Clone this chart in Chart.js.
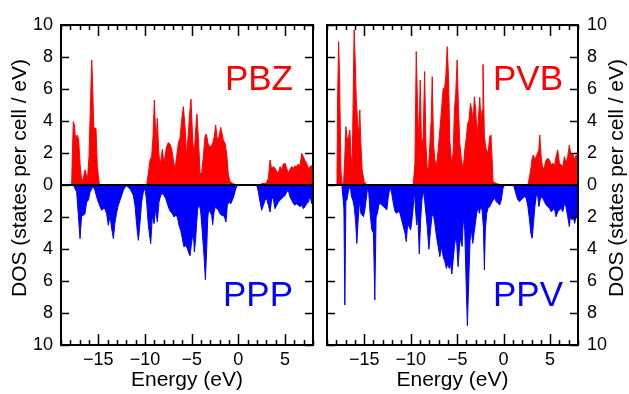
<!DOCTYPE html>
<html>
<head>
<meta charset="utf-8">
<script src="https://cdn.jsdelivr.net/npm/chart.js@4.4.1/dist/chart.umd.min.js"></script>
<style>
  html, body { margin: 0; padding: 0; background: #fff; }
  #wrap { position: relative; width: 629px; height: 394px; }
  canvas { position: absolute; top: 0; }
</style>
</head>
<body>
<div id="wrap">
  <canvas id="leftPanel" width="320" height="394" style="left:0"></canvas>
  <canvas id="rightPanel" width="309" height="394" style="left:320px"></canvas>
</div>
<script>
// energies (eV) and DOS values (states per cell / eV)
const pbzE = [-17.86,-17.79,-17.68,-17.57,-17.43,-17.25,-17.11,-16.96,-16.79,-16.61,-16.43,-16.32,-16.18,-16.00,-15.86,-15.71,-15.61,-15.50,-15.39,-15.25,-15.11,-14.89,
  -9.82,-9.64,-9.46,-9.29,-9.14,-9.00,-8.82,-8.68,-8.54,-8.39,-8.25,-8.14,-8.00,-7.86,-7.68,-7.50,-7.32,-7.14,-6.96,-6.79,-6.61,-6.43,-6.25,-6.07,-5.89,-5.71,-5.54,-5.36,-5.18,-5.07,-4.89,-4.75,-4.57,-4.43,-4.25,-4.11,-3.93,-3.75,-3.57,-3.43,-3.25,-3.11,-2.93,-2.75,-2.57,-2.43,-2.25,-2.07,-1.89,-1.75,-1.61,-1.43,-1.25,-1.07,-0.89,-0.61,-0.18,
  2.32,2.50,2.97,3.22,3.40,3.58,3.75,3.93,4.11,4.29,4.47,4.65,4.82,5.00,5.18,5.36,5.54,5.72,5.90,6.07,6.25,6.43,6.61,6.79,6.97,7.15,7.32,7.50,7.68,8.00];
const pbzV = [0,1.77,3.96,3.75,2.82,3.13,2.82,1.36,0.21,0.42,0.94,0.73,0.21,1.77,4.69,7.82,6.36,3.65,3.54,3.54,1.15,0,
  0,0.73,1.56,1.77,3.02,5.31,2.61,4.17,2.19,1.15,1.77,2.23,1.36,1.77,2.40,2.65,2.54,2.23,1.56,0.94,1.77,2.61,2.92,4.06,4.90,3.65,1.77,3.23,4.69,5.36,2.82,1.77,3.44,4.42,2.61,0.73,0.73,1.77,3.02,3.19,2.61,2.40,2.40,2.61,3.02,3.75,2.82,3.02,3.61,3.23,2.82,2.61,1.98,0.63,0.21,0.10,0,
  0,0.10,0.10,0.42,1.56,0.94,1.15,1.04,0.84,0.73,1.15,0.94,1.31,1.36,1.04,0.73,0.98,1.15,1.04,1.19,1.15,1.31,1.19,1.98,1.77,1.52,1.36,1.04,1.15,1.25];

const pppE = [-17.68,-17.32,-17.14,-16.96,-16.79,-16.61,-16.43,-16.25,-16.07,-15.89,-15.71,-15.54,-15.36,-15.18,-15.00,-14.82,-14.64,-14.46,-14.29,-14.11,
  -13.93,-13.75,-13.57,-13.39,-13.21,-13.03,-12.86,-12.68,-12.50,-12.32,-12.14,-11.96,-11.61,-11.25,-11.07,-10.89,-10.71,-10.53,-10.36,-10.18,
  -10.00,-9.82,-9.64,-9.39,-9.21,-9.03,-8.86,-8.68,-8.50,-8.32,-8.14,-7.96,-7.78,-7.61,-7.43,-7.25,-7.07,-6.89,-6.71,-6.53,
  -6.36,-6.18,-6.00,-5.82,-5.64,-5.46,-5.28,-5.18,-5.00,-4.82,-4.71,-4.57,-4.46,-4.35,-4.18,-4.03,-3.86,-3.68,-3.53,-3.39,
  -3.28,-3.17,-3.03,-2.85,-2.75,-2.60,-2.46,-2.32,-2.14,-1.96,-1.78,-1.60,-1.43,-1.32,-1.18,-1.00,-0.82,-0.64,-0.46,-0.28,
  -0.10,0.08,1.97,2.15,2.33,2.50,2.68,2.86,3.04,3.22,3.40,3.58,3.75,3.93,4.11,4.29,4.47,4.65,4.83,5.00,
  5.18,5.36,5.54,5.72,5.90,6.08,6.25,6.43,6.61,6.79,6.97,7.15,7.33,7.51,7.68,7.86,8.00];
const pppV = [0,0.44,1.90,3.35,1.90,1.90,1.79,1.06,0.96,0.44,0.23,0.13,0.33,0.75,1.06,1.35,1.58,1.48,1.48,1.79,
  2.52,1.90,2.73,3.35,2.31,1.69,1.27,0.96,0.65,0.33,0.13,0.06,0.23,0.65,1.27,2.52,3.46,2.31,1.06,0.44,
  0.19,1.06,2.52,3.67,1.90,2.42,1.48,2.31,1.06,0.65,0.54,0.65,0.85,1.17,1.48,1.69,1.79,2.00,1.90,2.00,
  2.52,2.83,3.35,3.88,3.77,3.98,4.29,4.40,3.56,2.94,4.19,3.35,2.31,1.48,1.17,1.69,2.94,4.40,5.92,3.98,
  2.10,1.48,1.69,1.90,2.48,1.69,1.35,1.48,1.58,1.79,1.90,1.90,2.10,2.31,1.27,1.06,1.17,0.96,0.65,0.23,
  0.02,0,0,0.44,1.06,1.58,1.27,0.96,0.85,1.27,1.69,0.85,0.85,1.48,1.27,1.06,0.96,0.85,0.75,0.65,
  0.44,0.33,0.75,0.96,1.17,1.27,1.17,1.27,1.35,1.27,1.48,1.35,1.17,1.06,0.65,1.17,1.20];

const pvbE = [-17.93,-17.86,-17.75,-17.65,-17.50,-17.40,-17.22,-17.11,-16.97,-16.83,-16.68,-16.54,-16.43,-16.29,-16.18,-16.08,-15.97,-15.86,-15.72,-15.58,-15.47,-15.36,-15.22,-15.00,-14.72,
  -9.72,-9.54,-9.40,-9.25,-9.11,-8.97,-8.83,-8.65,-8.50,-8.36,-8.22,-8.07,-7.93,-7.79,-7.68,-7.54,-7.40,-7.22,-7.04,-6.86,
  -6.68,-6.50,-6.36,-6.22,-6.07,-5.93,-5.79,-5.61,-5.43,-5.29,-5.15,-5.00,-4.86,-4.72,-4.54,-4.36,-4.18,-4.00,-3.86,-3.72,
  -3.57,-3.43,-3.29,-3.15,-3.00,-2.86,-2.72,-2.57,-2.43,-2.32,-2.22,-2.07,-1.93,-1.79,-1.64,-1.50,-1.36,-1.25,-1.14,-0.79,-0.25,
  2.61,2.79,2.93,3.07,3.21,3.36,3.50,3.64,3.79,3.89,4.04,4.21,4.39,4.57,4.75,4.93,5.11,5.29,5.46,5.64,
  5.82,6.00,6.18,6.36,6.54,6.71,6.89,7.07,7.25,7.43,7.61,7.79,8.00];
const pvbV = [0,5.31,8.96,6.77,0.94,0.10,0.10,1.36,3.65,2.82,3.02,3.44,1.98,0.94,5.73,9.69,7.82,5.52,4.06,3.02,4.69,2.61,0.94,0.21,0,
  0,1.36,8.34,4.69,2.82,6.56,2.19,3.02,7.09,2.61,0.94,1.15,2.61,4.06,6.77,2.61,1.56,1.15,2.19,3.44,
  4.69,6.04,5.94,6.77,8.65,6.77,2.82,1.36,1.98,4.69,5.73,7.82,4.90,2.61,1.56,0.94,2.19,3.02,3.86,4.06,
  5.10,4.69,3.86,5.52,4.69,3.02,4.06,5.48,3.86,4.69,7.54,3.02,2.40,1.98,2.19,3.02,3.13,1.77,0.21,0.10,0,
  0,0.52,1.04,1.67,1.88,1.56,1.77,1.98,2.19,3.13,1.77,0.94,1.15,1.56,1.67,1.56,1.25,1.36,1.15,1.77,
  2.19,1.36,1.25,1.15,1.77,1.36,1.77,2.50,1.77,1.98,1.56,1.88,1.77];

const ppvE = [-17.40,-17.29,-17.18,-17.08,-16.97,-16.86,-16.68,-16.50,-16.36,-16.22,-16.08,-15.93,-15.79,-15.65,-15.50,-15.36,-15.22,-15.08,-14.93,-14.79,
  -14.65,-14.50,-14.36,-14.18,-14.00,-13.86,-13.72,-13.57,-13.43,-13.29,-13.11,-12.93,-12.75,-12.57,-12.40,-12.22,-12.04,-11.86,-11.68,-11.50,
  -11.32,-11.15,-10.97,-10.79,-10.61,-10.47,-10.32,-10.18,-10.00,-9.86,-9.72,-9.61,-9.47,-9.36,-9.22,-9.07,-8.93,-8.79,-8.65,-8.50,
  -8.36,-8.22,-8.04,-7.86,-7.72,-7.57,-7.40,-7.22,-7.04,-6.86,-6.68,-6.50,-6.32,-6.15,-6.00,-5.86,-5.72,-5.57,-5.43,-5.29,
  -5.15,-5.04,-4.90,-4.75,-4.61,-4.47,-4.32,-4.18,-4.04,-3.90,-3.75,-3.61,-3.47,-3.32,-3.18,-3.04,-2.90,-2.75,-2.61,-2.47,
  -2.32,-2.18,-2.07,-1.97,-1.82,-1.68,-1.50,-1.32,-1.14,-0.97,-0.79,-0.61,-0.43,-0.25,-0.07,0.11,1.07,1.21,1.36,1.54,
  1.71,1.89,2.07,2.25,2.43,2.61,2.79,2.93,3.07,3.21,3.36,3.50,3.64,3.79,3.93,4.07,4.21,4.39,4.57,4.75,
  4.93,5.11,5.29,5.46,5.64,5.82,6.00,6.18,6.36,6.54,6.71,6.89,7.07,7.21,7.36,7.50,7.64,7.79,8.00];
const ppvV = [0,0.73,1.50,7.50,1.00,0.94,0.31,0.10,0.73,0.94,1.35,2.19,3.65,2.19,0.94,1.77,1.88,1.98,1.56,0.94,
  0.21,0.52,1.77,2.80,3.00,7.19,2.00,1.77,1.25,1.15,1.25,1.35,1.46,1.56,0.73,0.10,0.52,1.15,1.67,1.77,
  1.67,1.77,2.19,2.60,3.02,3.54,2.40,2.60,2.81,2.19,1.35,0.31,1.56,2.50,1.98,4.31,2.19,0.94,0.31,0.94,
  1.77,2.60,4.02,2.81,1.98,1.77,2.40,3.23,3.85,4.48,3.85,4.48,4.79,5.21,4.90,5.21,4.90,5.56,4.69,3.85,
  3.23,3.65,5.10,3.85,3.23,3.85,1.98,2.81,5.94,8.79,5.94,3.44,2.81,3.65,3.02,2.40,1.77,1.35,1.77,1.35,
  1.56,2.60,5.31,2.81,1.77,1.46,1.35,1.15,0.94,0.83,1.04,1.15,1.25,0.94,0.21,0,0,0.31,0.63,0.94,
  1.04,0.94,0.83,0.73,0.83,1.35,2.19,3.02,3.33,2.40,1.35,0.73,0.52,1.35,0.94,0.73,0.83,1.04,1.25,1.35,
  1.46,1.67,1.56,1.46,1.98,1.67,1.56,1.46,1.67,1.15,1.35,1.98,2.60,1.77,2.19,1.98,2.40,1.98,2.08];

const xMajor = [-15, -10, -5, 0, 5];
const yMajor = [-10, -8, -6, -4, -2, 0, 2, 4, 6, 8, 10];
const eRange = [-19, 8];
const yTitle = "DOS (states per cell / eV)";
const xTitle = "Energy (eV)";

const FONT = '"Liberation Sans", Arial, Helvetica, sans-serif';

// frame, inward ticks, zero line, panel labels and y title
const panelDeco = {
  id: "panelDeco",
  afterDatasetsDraw(chart, args, o) {
    const { ctx, chartArea: a, scales: { x, y } } = chart;
    ctx.save();
    ctx.strokeStyle = "#000";
    ctx.lineWidth = 2;
    const y0 = y.getPixelForValue(0);
    ctx.beginPath();
    ctx.moveTo(a.left, y0);
    ctx.lineTo(a.right, y0);
    ctx.stroke();

    ctx.lineWidth = 1.5;
    ctx.beginPath();
    for (let e = Math.ceil(x.min); e <= x.max; e++) {
      const px = Math.round(x.getPixelForValue(e)) + 0.5;
      const len = xMajor.includes(e) ? 11 : 5;
      ctx.moveTo(px, a.top); ctx.lineTo(px, a.top + len);
      ctx.moveTo(px, a.bottom); ctx.lineTo(px, a.bottom - len);
    }
    yMajor.forEach(v => {
      const py = Math.round(y.getPixelForValue(v)) + 0.5;
      ctx.moveTo(a.left, py); ctx.lineTo(a.left + 8, py);
      ctx.moveTo(a.right, py); ctx.lineTo(a.right - 8, py);
    });
    ctx.stroke();

    ctx.lineWidth = 2;
    ctx.strokeRect(a.left, a.top, a.right - a.left, a.bottom - a.top);

    ctx.font = "35px " + FONT;
    ctx.textAlign = "right";
    ctx.textBaseline = "alphabetic";
    ctx.fillStyle = "#ff0000";
    ctx.fillText(o.upper, a.right - o.labelInset, 90);
    ctx.fillStyle = "#0000ff";
    ctx.fillText(o.lower, a.right - o.labelInset, 306);

    ctx.fillStyle = "#000";
    ctx.font = "21px " + FONT;
    ctx.textAlign = "center";
    ctx.textBaseline = "middle";
    ctx.translate(o.titleX, 178);
    ctx.rotate(-Math.PI / 2);
    ctx.fillText(yTitle, 0, 0);
    ctx.restore();
  }
};

function makePanel(id, upE, upV, loE, loV, side, labels) {
  const left = side === "left";
  return new Chart(document.getElementById(id), {
    type: "line",
    data: {
      datasets: [
        {
          data: upE.map((e, i) => ({ x: e, y: upV[i] })),
          backgroundColor: "#ff0000",
          borderColor: "#ff0000",
          borderWidth: 1,
          pointRadius: 0,
          fill: "origin",
          tension: 0
        },
        {
          data: loE.map((e, i) => ({ x: e, y: -loV[i] })),
          backgroundColor: "#0000ff",
          borderColor: "#0000ff",
          borderWidth: 1,
          pointRadius: 0,
          fill: "origin",
          tension: 0
        }
      ]
    },
    options: {
      responsive: false,
      animation: false,
      layout: { padding: left ? { left: 0, top: 25, right: 7, bottom: 0 } : { left: 7, top: 25, right: 0, bottom: 0 } },
      plugins: {
        legend: { display: false },
        tooltip: { enabled: false },
        panelDeco: { upper: labels[0], lower: labels[1], labelInset: left ? 20 : 15, titleX: left ? 20 : 297 }
      },
      scales: {
        x: {
          type: "linear",
          min: eRange[0],
          max: eRange[1],
          afterFit: s => { s.height = 49; },
          afterBuildTicks: s => { s.ticks = xMajor.map(v => ({ value: v })); },
          grid: { display: false, drawTicks: false },
          border: { display: false },
          ticks: {
            padding: 4,
            color: "#000",
            font: { family: FONT, size: 18 },
            callback: v => (v < 0 ? "\u2212" + Math.abs(v) : String(v))
          },
          title: {
            display: true,
            text: xTitle,
            color: "#000",
            font: { family: FONT, size: 21 },
            padding: { top: 0, bottom: 1 }
          }
        },
        y: {
          position: side,
          min: -10,
          max: 10,
          afterFit: s => { s.width = left ? 61 : 51; },
          afterBuildTicks: s => { s.ticks = yMajor.map(v => ({ value: v })); },
          grid: { display: false, drawTicks: false },
          border: { display: false },
          ticks: {
            padding: left ? 8 : 9,
            color: "#000",
            font: { family: FONT, size: 18 },
            callback: v => String(Math.abs(v))
          }
        }
      }
    },
    plugins: [panelDeco]
  });
}

makePanel("leftPanel", pbzE, pbzV, pppE, pppV, "left", ["PBZ", "PPP"]);
makePanel("rightPanel", pvbE, pvbV, ppvE, ppvV, "right", ["PVB", "PPV"]);
</script>
</body>
</html>
